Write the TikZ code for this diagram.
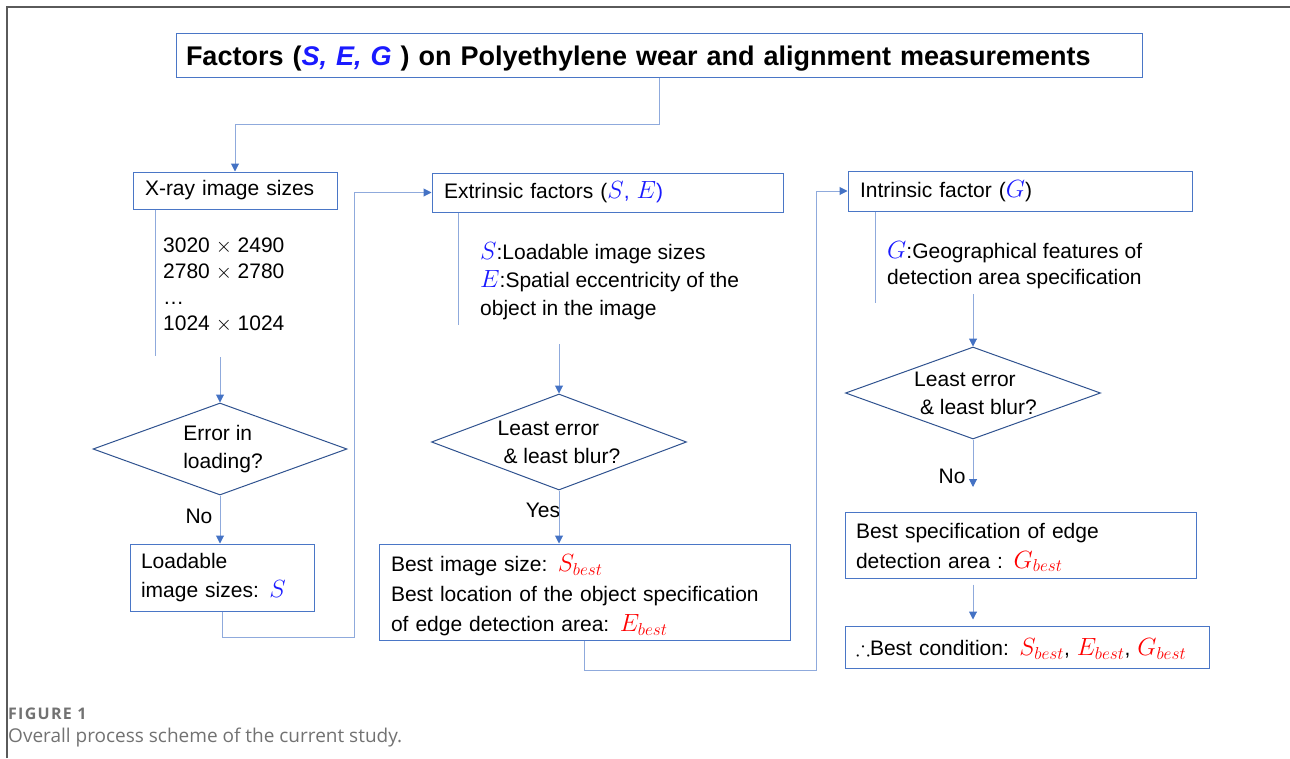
\documentclass[tikz,border=0pt]{standalone}
\usepackage{amssymb}
\usepackage{fontspec}
\setmainfont{Liberation Sans}
\newfontfamily\capfont{Open Sans}
\usetikzlibrary{shapes.geometric,arrows.meta}
\definecolor{boxblue}{HTML}{4A76C6}
\definecolor{diablue}{HTML}{2F528F}
\definecolor{lineblue}{HTML}{8FAADC}
\definecolor{arrowblue}{HTML}{4472C4}
\definecolor{mblue}{HTML}{1A1AFF}
\definecolor{mred}{HTML}{FF0000}
\definecolor{framegray}{HTML}{5A5A5A}
\definecolor{capgray}{HTML}{727272}
\newcommand{\mbig}[1]{{\fontsize{24}{28}\selectfont$#1$}}
\newcommand{\mvS}{\textcolor{mblue}{\mbig{S}}}
\newcommand{\mvE}{\textcolor{mblue}{\mbig{E}}}
\newcommand{\mvG}{\textcolor{mblue}{\mbig{G}}}
\newcommand{\rbest}[1]{\textcolor{mred}{\mbig{#1_{best}}}}
% push a block's text down by half of #1 inside its centred box
\newcommand{\pushdown}[2]{\raisebox{0pt}[\dimexpr\height+#1\relax][\depth]{#2}}
\tikzset{
  txt/.style={font=\fontsize{21}{28}\selectfont, inner sep=0pt},
  box/.style={txt, draw=boxblue, line width=1pt, align=left, inner ysep=0pt},
  dia/.style={txt, draw=diablue, line width=1pt, diamond, aspect=2.76, inner sep=0pt, align=left},
  conn/.style={draw=lineblue, line width=1pt},
  arr/.style={conn, -{Triangle[length=8pt,width=8pt,color=arrowblue]}},
}
\begin{document}
\begin{tikzpicture}[x=1pt,y=-1pt]
\useasboundingbox (0,0) rectangle (1290,758);
% frame
\draw[framegray, line width=1.3pt] (7,758) -- (7,7) -- (1290,7);

% title
\node[box, minimum width=966, minimum height=44, text width=946, inner xsep=10,
      font=\fontsize{27}{30}\selectfont\bfseries] (title) at (659,55)
  {\pushdown{8pt}{Factors (\textcolor{mblue}{\itshape S, E, G} ) on Polyethylene wear and alignment measurements}};

% column 1
\node[box, minimum width=204, minimum height=37, text width=180, inner xsep=12] (xray) at (235,190.5) {X-ray image sizes};
\node[txt, anchor=north west, align=left, font=\fontsize{21}{26}\selectfont] (sizes) at (163,238)
  {3020 $\times$ 2490\\2780 $\times$ 2780\\\ldots\\1024 $\times$ 1024};
\node[dia, minimum width=254, minimum height=92] (d1) at (220,449) {\hspace*{6pt}Error in\\\hspace*{6pt}loading?};
\node[box, minimum width=184, minimum height=67, text width=162, inner xsep=11,
      font=\fontsize{21}{29}\selectfont] (load) at (222,577.5)
  {Loadable\\image sizes: \mvS};
\node[txt] (no1) at (199,516) {No};

% column 2
\node[box, minimum width=351, minimum height=39, text width=327, inner xsep=12] (ext) at (607.5,192.5)
  {Extrinsic factors (\textcolor{mblue}{\mbig{S}, \mbig{E})}};
\node[txt, anchor=north west, align=left] (exttxt) at (480,242)
  {\mvS:Loadable image sizes\\\mvE:Spatial eccentricity of the\\object in the image};
\node[dia, minimum width=255, minimum height=96] (d2) at (559,442) {Least error\\\ \& least blur?};
\node[txt] (yes) at (543,510) {Yes};
\node[box, minimum width=411, minimum height=96, text width=387, inner xsep=12,
      font=\fontsize{21}{30}\selectfont] (best1) at (584.5,592)
  {\pushdown{7pt}{Best image size: \rbest{S}}\\Best location of the object specification\\of edge detection area: \rbest{E}};

% column 3
\node[box, minimum width=344, minimum height=40, text width=320, inner xsep=12] (intr) at (1020,191)
  {Intrinsic factor (\mvG)};
\node[txt, anchor=north west, align=left, font=\fontsize{21}{26}\selectfont] (intrtxt) at (887,241)
  {\mvG:Geographical features of\\detection area specification};
\node[dia, minimum width=255, minimum height=92] (d3) at (973,393) {\hspace*{5pt}Least error\\\hspace*{5pt}\ \& least blur?};
\node[txt] (no3) at (952,476) {No};
\node[box, minimum width=351, minimum height=66, text width=329, inner xsep=11,
      font=\fontsize{21}{30}\selectfont] (best2) at (1020.5,545)
  {\pushdown{5pt}{Best specification of edge}\\detection area : \rbest{G}};
\node[box, minimum width=364, minimum height=42, text width=342, inner xsep=11] (bestc) at (1027,647)
  {\pushdown{4pt}{$\therefore$Best condition: \rbest{S}, \rbest{E}, \rbest{G}}};

% caption
\node[anchor=west, inner sep=0pt, text=capgray, font=\capfont\fontsize{16}{18}\selectfont\bfseries\addfontfeature{LetterSpace=8}] (figlab) at (8,714) {FIGURE 1};
\node[anchor=west, inner sep=0pt, text=capgray, font=\capfont\fontsize{19}{22}\selectfont] (figcap) at (8,738) {Overall process scheme of the current study.};

% coordinates for free ends
\coordinate (c1) at (220,357);
\coordinate (c2) at (559,344);
\coordinate (c3) at (973,294);
\coordinate (e3) at (973,487);

% connectors
\draw[arr] (title.south) -- ++(0,47) -| (xray.north);
\draw[conn] ([xshift=23]xray.south west) -- ++(0,146);
\draw[arr] (c1) -- (d1.north);
\draw[arr] (d1.south) -- (d1.south |- load.north);
\draw[arr] (load.south) -- ++(0,26) -| ([xshift=-77]ext.west) -- (ext.west);

\draw[conn] ([xshift=27]ext.south west) -- ++(0,112);
\draw[arr] (c2) -- (d2.north);
\draw[arr] (d2.south) -- (d2.south |- best1.north);
\draw[arr] (best1.south) -- ++(0,30) -| ([xshift=-31]intr.west) -- (intr.west);

\draw[conn] ([xshift=28]intr.south west) -- ++(0,91);
\draw[arr] (c3) -- (d3.north);
\draw[arr] (d3.south) -- (e3);
\draw[arr, shorten <=6pt, shorten >=6pt] (best2.south -| d3.south) -- (bestc.north -| d3.south);
\end{tikzpicture}
\end{document}
